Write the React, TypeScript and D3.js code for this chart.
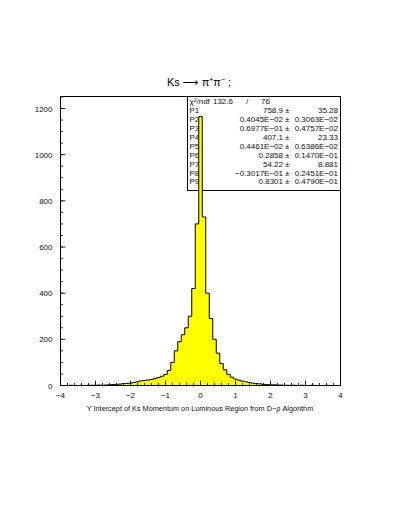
import React from 'react';
import * as d3 from 'd3';

// histogram contents, bins of 0.1 centred on -4.0 ... 4.0
const binWidth = 0.1;
const firstCenter = -4.0;
const counts = [
  0, 0, 0, 1, 0, 0, 1, 0, 1, 1,
  1, 2, 1, 2, 3, 4, 5, 6, 8, 9,
  10, 13, 16, 20, 22, 24, 26, 30, 34, 40,
  48, 65, 100, 150, 190, 220, 250, 300, 420, 700,
  1165,
  730, 400, 290, 200, 140, 95, 68, 48, 36, 28,
  23, 19, 16, 13, 10, 8, 7, 5, 4, 3,
  3, 2, 2, 1, 1, 1, 1, 0, 1, 0,
  0, 1, 0, 0, 0, 1, 0, 0, 0, 0,
];

const xTicks = [-4, -3, -2, -1, 0, 1, 2, 3, 4];
const yTicks = [0, 200, 400, 600, 800, 1000, 1200];

const fitHeader = { chi2: '132.6', ndf: '76' };
const parNames = ['P1', 'P2', 'P3', 'P4', 'P5', 'P6', 'P7', 'P8', 'P9'];
const parValues = [
  '758.9', '0.4045E\u221202', '0.6977E\u221201', '407.1', '0.4461E\u221202',
  '0.2858', '54.22', '\u22120.3017E\u221201', '0.8301',
];
const parErrors = [
  '35.28', '0.3063E\u221202', '0.4757E\u221202', '23.33', '0.6386E\u221202',
  '0.1470E\u221201', '8.881', '0.2451E\u221201', '0.4790E\u221201',
];

const xTitle = 'Y Intercept of Ks Momentum on Luminous Region from D\u2212\u03c1 Algorithm';

const W = 398;
const H = 515;
const frame = { left: 60.5, right: 340.5, top: 96.5, bottom: 385.5 };
const font = '"Liberation Sans", Arial, sans-serif';

const App = () => {
  const x = d3.scaleLinear().domain([-4, 4]).range([frame.left, frame.right]);
  const y = d3.scaleLinear().domain([0, 1252]).range([frame.bottom, frame.top]);

  // step outline of the histogram
  const pts: [number, number][] = [[x(-4), y(0)]];
  counts.forEach((c, i) => {
    const mid = firstCenter + i * binWidth;
    const lo = Math.max(mid - binWidth / 2, -4);
    const hi = Math.min(mid + binWidth / 2, 4);
    pts.push([x(lo), y(c)]);
    pts.push([x(hi), y(c)]);
  });
  pts.push([x(4), y(0)]);
  const line = d3.line();
  const histPath = line(pts) || '';

  const xMinor = d3.range(-4, 4.001, 0.2);
  const yMinor = d3.range(0, 1251, 50);

  const boxLeft = 187.5;
  const boxBottom = 190.5;
  const rowH = 8.9;

  const fmt = (v: number) => (v < 0 ? '\u2212' + Math.abs(v) : String(v));

  return (
    <svg width={W} height={H} style={{ position: 'absolute', left: 0, top: 0, background: '#fff' }}
      fontFamily={font}>
      <text x={199} y={86} fontSize={11} textAnchor="middle" fill="#000">
        Ks <tspan fontFamily='"DejaVu Sans"' fontSize={11}>{'\u27f6'}</tspan> {'\u03c0'}
        <tspan dy={-4} fontSize={7}>+</tspan><tspan dy={4}>{'\u03c0'}</tspan>
        <tspan dy={-4} fontSize={7}>{'\u2212'}</tspan><tspan dy={4}> ;</tspan>
      </text>

      {/* stats box */}
      <rect x={boxLeft} y={frame.top} width={frame.right - boxLeft} height={boxBottom - frame.top}
        fill="#fff" stroke="#000" strokeWidth={1} />
      <g fontSize={8} fill="#111">
        <text x={189.5} y={frame.top + 7.5}>
          {'\u03c7'}<tspan dy={-2.5} fontSize={5}>2</tspan><tspan dy={2.5}>/ndf</tspan>
        </text>
        <text x={233} y={frame.top + 7.5} textAnchor="end">{fitHeader.chi2}</text>
        <text x={246} y={frame.top + 7.5}>/</text>
        <text x={270} y={frame.top + 7.5} textAnchor="end">{fitHeader.ndf}</text>
        {parNames.map((p, i) => {
          const ty = frame.top + 7.8 + rowH * (i + 1);
          return (
            <g key={p}>
              <text x={189.5} y={ty}>{p}</text>
              <text x={283} y={ty} textAnchor="end">{parValues[i]}</text>
              <text x={285} y={ty}>{'\u00b1'}</text>
              <text x={338} y={ty} textAnchor="end">{parErrors[i]}</text>
            </g>
          );
        })}
      </g>

      {/* histogram */}
      <path d={histPath} fill="#ffff00" stroke="#000" strokeWidth={1} />

      {/* frame */}
      <rect x={frame.left} y={frame.top} width={frame.right - frame.left} height={frame.bottom - frame.top}
        fill="none" stroke="#000" strokeWidth={1} />

      {/* x ticks */}
      {xMinor.map((t, i) => (
        <line key={'xm' + i} x1={x(t)} x2={x(t)} y1={frame.bottom} y2={frame.bottom - 2.5}
          stroke="#000" strokeWidth={0.8} />
      ))}
      {xTicks.map(t => (
        <g key={'x' + t}>
          <line x1={x(t)} x2={x(t)} y1={frame.bottom} y2={frame.bottom - 5} stroke="#000" strokeWidth={0.8} />
          <text x={x(t)} y={frame.bottom + 12} fontSize={8} textAnchor="middle" fill="#111">{fmt(t)}</text>
        </g>
      ))}

      {/* y ticks */}
      {yMinor.map((t, i) => (
        <line key={'ym' + i} x1={frame.left} x2={frame.left + 2.5} y1={y(t)} y2={y(t)}
          stroke="#000" strokeWidth={0.8} />
      ))}
      {yTicks.map(t => (
        <g key={'y' + t}>
          <line x1={frame.left} x2={frame.left + 5} y1={y(t)} y2={y(t)} stroke="#000" strokeWidth={0.8} />
          <text x={frame.left - 8} y={y(t) + 3} fontSize={8} textAnchor="end" fill="#111">{t}</text>
        </g>
      ))}

      <text x={200} y={411} fontSize={7.3} textAnchor="middle" fill="#111">{xTitle}</text>
    </svg>
  );
};

export default App;
